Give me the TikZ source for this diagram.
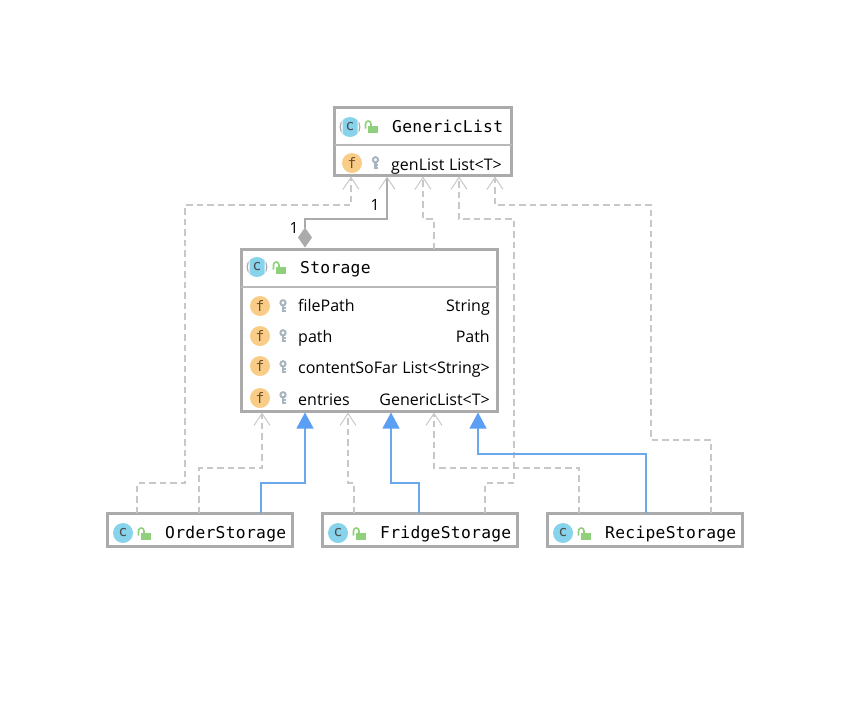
\documentclass[tikz,border=0pt]{standalone}
\usepackage{fontspec}
\setmainfont{Open Sans}
\newfontfamily\mononame[LetterSpace=1.8]{DejaVu Sans Mono}
\newfontfamily\iconfont{DejaVu Sans Mono}
\usetikzlibrary{arrows.meta}
\definecolor{boxgray}{HTML}{ABABAB}
\definecolor{divgray}{HTML}{B9B9B9}
\definecolor{linkgray}{HTML}{C8C8C8}
\definecolor{inhblue}{HTML}{6AA9EE}
\definecolor{tipblue}{HTML}{5B9FF5}
\definecolor{classblue}{HTML}{87D3EC}
\definecolor{fieldorange}{HTML}{F9CD88}
\definecolor{lockgreen}{HTML}{90CF7B}
\definecolor{keygray}{HTML}{A6B5BE}
\tikzset{
  x=1pt,y=-1pt,
  classbox/.style={draw=boxgray,line width=3pt,fill=white,anchor=north west,inner sep=0pt,outer sep=0pt},
  cname/.style={anchor=base west,inner sep=0pt,font=\mononame\fontsize{16.3}{18}\selectfont,text=black},
  fname/.style={anchor=base west,inner sep=0pt,font=\fontsize{16}{18}\selectfont,text=black},
  ftype/.style={anchor=base east,inner sep=0pt,font=\fontsize{16}{18}\selectfont,text=black},
  mult/.style={inner sep=0pt,font=\fontsize{15.5}{18}\selectfont,text=black},
  cicon/.style={circle,fill=classblue,minimum size=20pt,inner sep=0pt,font=\iconfont\fontsize{14.5}{14}\selectfont,text=black!70},
  cletter/.style={inner sep=0pt,font=\iconfont\fontsize{14.5}{14}\selectfont,text=black!70},
  ficon/.style={circle,fill=fieldorange,minimum size=20pt,inner sep=0pt,font=\iconfont\fontsize{14.5}{14}\selectfont,text=brown!60!black},
  dep/.style={draw=linkgray,line width=1.2pt,dash pattern=on 6.5pt off 4pt,-{Straight Barb[length=12pt,width=16pt,line width=1pt]}},
  inh/.style={draw=inhblue,line width=1.1pt,-{Triangle[length=16pt,width=17pt,color=tipblue,fill=tipblue]}},
  comp/.style={draw=linkgray!85!black,line width=1.1pt,{Diamond[length=20pt,width=14pt,fill=boxgray,color=boxgray]}-{Straight Barb[length=12pt,width=16pt,line width=1pt,color=linkgray]}},
  lockicon/.pic={
    \fill[lockgreen] (-3.5,-1.5) rectangle (6.5,5.5);
    \draw[lockgreen,line width=1.6pt] (-5.5,1.5) -- (-5.5,-3) .. controls (-5.5,-7) and (0,-7) .. (0,-3) -- (0,-1);
  },
  keyicon/.pic={
    \draw[keygray,line width=2pt] (0,-3.2) circle (2.6);
    \draw[keygray,line width=2.4pt] (0,-1) -- (0,5.5) (0,2.2) -- (2.6,2.2) (0,5) -- (2.6,5);
  },
  abstracticon/.pic={
    \begin{scope}
      \clip (-7.5,-11) rectangle (7.5,11);
      \fill[classblue] (0,0) circle (10);
    \end{scope}
    \begin{scope}
      \clip (-12,-12) rectangle (-8.5,12) (8.5,-12) rectangle (12,12);
      \draw[boxgray,line width=1.2pt] (0,0) circle (9.8);
    \end{scope}
  },
}
\begin{document}
\begin{tikzpicture}
\useasboundingbox[fill=white] (0,0) rectangle (848,705);
% boxes
\node[classbox,minimum width=177pt,minimum height=68pt] (gl) at (334.5,107) {};
\node[classbox,minimum width=256pt,minimum height=162pt] (st) at (241,249) {};
\node[classbox,minimum width=185pt,minimum height=33pt] (os) at (107,513) {};
\node[classbox,minimum width=195pt,minimum height=33pt] (fs) at (322,513) {};
\node[classbox,minimum width=195pt,minimum height=33pt] (rs) at (547.5,513) {};
\draw[divgray,line width=1.2pt] ([yshift=-38pt]gl.north west) -- ([yshift=-38pt]gl.north east);
\draw[divgray,line width=1.2pt] ([yshift=-38pt]st.north west) -- ([yshift=-38pt]st.north east);
% connectors
\draw[dep] ([xshift=30pt]os.north west) -- (137,483) -- (185,483) -- (185,205) -- (351,205) -- ([xshift=16.5pt,yshift=-1.5pt]gl.south west);
\draw[dep] ([xshift=193pt]st.north west) -- (434,219) -- (423,219) -- ([xshift=88.5pt,yshift=-1.5pt]gl.south west);
\draw[dep] ([xshift=163pt]fs.north west) -- (485,483) -- (514,483) -- (514,219) -- (459,219) -- ([xshift=124.5pt,yshift=-1.5pt]gl.south west);
\draw[dep] ([xshift=163.5pt]rs.north west) -- (711,440) -- (651,440) -- (651,205) -- (495,205) -- ([xshift=160.5pt,yshift=-1.5pt]gl.south west);
\draw[comp] ([xshift=64pt,yshift=1.5pt]st.north west) -- (305,219) -- (387,219) -- ([xshift=52.5pt,yshift=-1.5pt]gl.south west);
\draw[dep] ([xshift=92pt]os.north west) -- (199,468) -- (262,468) -- ([xshift=21pt,yshift=-1.5pt]st.south west);
\draw[dep] ([xshift=32pt]fs.north west) -- (354,483) -- (348,483) -- ([xshift=107pt,yshift=-1.5pt]st.south west);
\draw[dep] ([xshift=31.5pt]rs.north west) -- (579,468) -- (434,468) -- ([xshift=193pt,yshift=-1.5pt]st.south west);
\draw[inh] ([xshift=154pt]os.north west) -- (261,483) -- (305,483) -- ([xshift=64pt,yshift=-1.5pt]st.south west);
\draw[inh] ([xshift=97pt]fs.north west) -- (419,483) -- (391,483) -- ([xshift=150pt,yshift=-1.5pt]st.south west);
\draw[inh] ([xshift=98.5pt]rs.north west) -- (646,454) -- (478,454) -- ([xshift=237pt,yshift=-1.5pt]st.south west);
\node[mult] (m1) at (375,205) {1};
\node[mult] (m2) at (294,228) {1};
% GenericList
\pic at (350,127) {abstracticon};
\node[cletter] (gc) at (350,127) {c};
\pic at (371,127) {lockicon};
\node[cname] (gn) at (392,132) {GenericList};
\node[ficon] (gf) at (352,163) {f};
\pic at (375.5,163) {keyicon};
\node[fname] (gf1) at (391,170) {genList};
\node[ftype] (gt1) at (502,170) {List<T>};
% Storage
\pic at (257,267) {abstracticon};
\node[cletter] (sc) at (257,267) {c};
\pic at (279,268) {lockicon};
\node[cname] (sn) at (300,273) {Storage};
\node[ficon] (sf1) at (260,306) {f};
\node[ficon] (sf2) at (260,336) {f};
\node[ficon] (sf3) at (260,366) {f};
\node[ficon] (sf4) at (260,398) {f};
\pic at (283,306) {keyicon};
\pic at (283,336) {keyicon};
\pic at (283,367) {keyicon};
\pic at (283,398) {keyicon};
\node[fname] (sa1) at (298,311) {filePath};
\node[fname] (sa2) at (298,342) {path};
\node[fname] (sa3) at (298,373) {contentSoFar};
\node[fname] (sa4) at (298,405) {entries};
\node[ftype] (st1) at (490,311) {String};
\node[ftype] (st2) at (490,342) {Path};
\node[ftype] (st3) at (490,373) {List<String>};
\node[ftype] (st4) at (490,405) {GenericList<T>};
% bottom classes
\node[cicon] (oc) at (123,533) {c};
\pic at (144,534) {lockicon};
\node[cname] (on) at (165,538) {OrderStorage};
\node[cicon] (fc) at (338,533) {c};
\pic at (359,534) {lockicon};
\node[cname] (fn) at (380,538) {FridgeStorage};
\node[cicon] (rc) at (563,533) {c};
\pic at (584,534) {lockicon};
\node[cname] (rn) at (605,538) {RecipeStorage};
\end{tikzpicture}
\end{document}
